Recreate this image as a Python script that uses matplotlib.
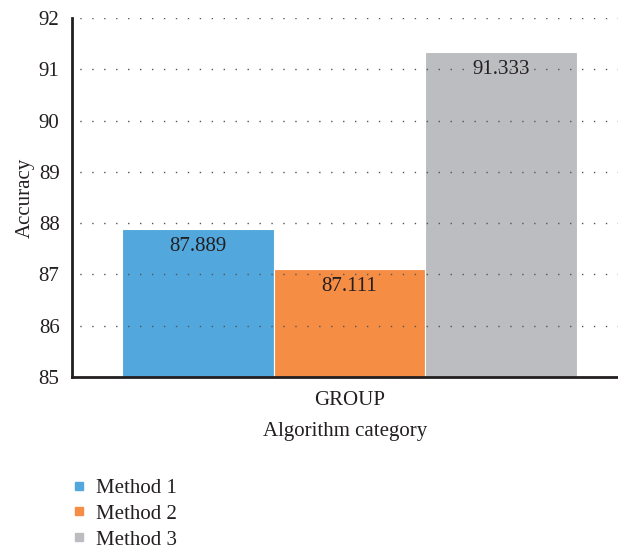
import matplotlib
matplotlib.use("Agg")
import matplotlib.pyplot as plt
from matplotlib.lines import Line2D

methods = ["Method 1", "Method 2", "Method 3"]
accuracy = [87.889, 87.111, 91.333]
group_label = "GROUP"
colors = ["#52A8DD", "#F58D45", "#BCBDC1"]
y_ticks = [85, 86, 87, 88, 89, 90, 91, 92]

plt.rcParams["font.family"] = ["Liberation Serif", "DejaVu Serif"]
plt.rcParams["font.size"] = 15

fig = plt.figure(figsize=(6.18, 5.51), dpi=100)
ax = fig.add_axes([72 / 618, 1 - 377 / 551, (618 - 72) / 618, (377 - 18) / 551])

positions = [-1, 0, 1]
ax.bar(positions, accuracy, width=1.0, color=colors,
       edgecolor="white", linewidth=0.8, zorder=1)
for x, v in zip(positions, accuracy):
    ax.text(x, v - 0.16, f"{v:.3f}", ha="center", va="top",
            fontsize=15, color="#231F20", zorder=4)

ax.set_ylim(85, 92)
ax.set_xlim(-1.83, 1.77)
ax.set_yticks(y_ticks)
ax.set_yticklabels([str(t) for t in y_ticks])
ax.set_xticks([0])
ax.set_xticklabels([group_label])
ax.tick_params(axis="y", length=0, pad=9, labelsize=15, colors="#231F20")
ax.tick_params(axis="x", length=0, pad=10, labelsize=15, colors="#231F20")

ax.yaxis.grid(True, linestyle=(3, (1, 7.6)), color="#555555", linewidth=1.0)
ax.set_axisbelow(False)
for line in ax.get_ygridlines():
    line.set_zorder(3)

for side in ["top", "right"]:
    ax.spines[side].set_visible(False)
for side in ["left", "bottom"]:
    ax.spines[side].set_linewidth(2.0)
    ax.spines[side].set_color("#231F20")
    ax.spines[side].set_zorder(5)

ax.set_ylabel("Accuracy", fontsize=15, color="#231F20", labelpad=3)
ax.set_xlabel("Algorithm category", fontsize=15, color="#231F20", labelpad=9)

handles = [Line2D([0], [0], marker="s", linestyle="none", markersize=6,
                  markerfacecolor=c, markeredgecolor=c) for c in colors]
fig.legend(handles, methods, loc="upper left", bbox_to_anchor=(60 / 618, 1 - 470 / 551),
           frameon=False, fontsize=15, handletextpad=0.35, labelspacing=0.3,
           handlelength=1.0, labelcolor="#231F20", borderaxespad=0)

fig.savefig("out.png", dpi=100)
